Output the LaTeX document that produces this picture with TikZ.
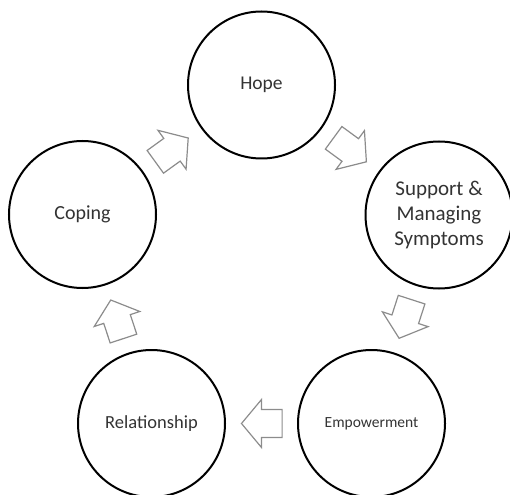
\documentclass[tikz,border=0pt]{standalone}
\usepackage{fontspec}
\setmainfont{Carlito}
\usetikzlibrary{calc}
\definecolor{txtgray}{HTML}{333333}
\definecolor{arrgray}{HTML}{8C8C8C}
\tikzset{
  stage/.style={circle, draw=black, line width=2pt, minimum size=147pt, inner sep=0pt,
    text=txtgray, align=center, font=\fontsize{19.5}{25}\selectfont},
  blockarrow/.pic={
    \draw[draw=arrgray, line width=1.2pt, fill=white, line join=miter]
      (20,0) -- (0,24) -- (0,14) -- (-20.6,14) -- (-20.6,-14) -- (0,-14) -- (0,-24) -- cycle;
  }
}
\begin{document}
\begin{tikzpicture}[x=1pt,y=-1pt]
\useasboundingbox (0,0) rectangle (510,494);
\clip (0,0) rectangle (510,494);
\node[stage] (hope) at (261.5,85) {Hope};
\node[stage, font=\fontsize{21}{25}\selectfont] (support) at (439,215) {Support \&\\Managing\\Symptoms};
\node[stage, font=\fontsize{15.5}{19}\selectfont] (empower) at (371.5,423.5) {Empowerment};
\node[stage, font=\fontsize{18.5}{22}\selectfont] (relation) at (151.5,423.5) {Relationship};
\node[stage, font=\fontsize{20}{25}\selectfont] (coping) at (82.5,214.5) {Coping};
\foreach \a/\b in {coping/hope, hope/support, support/empower, empower/relation, relation/coping}
  \path let \p1=(\a.center), \p2=(\b.center), \n1={atan2(\y2-\y1,\x2-\x1)} in
    pic[rotate=\n1] at ($(\p1)!0.5!(\p2)$) {blockarrow};
\end{tikzpicture}
\end{document}
